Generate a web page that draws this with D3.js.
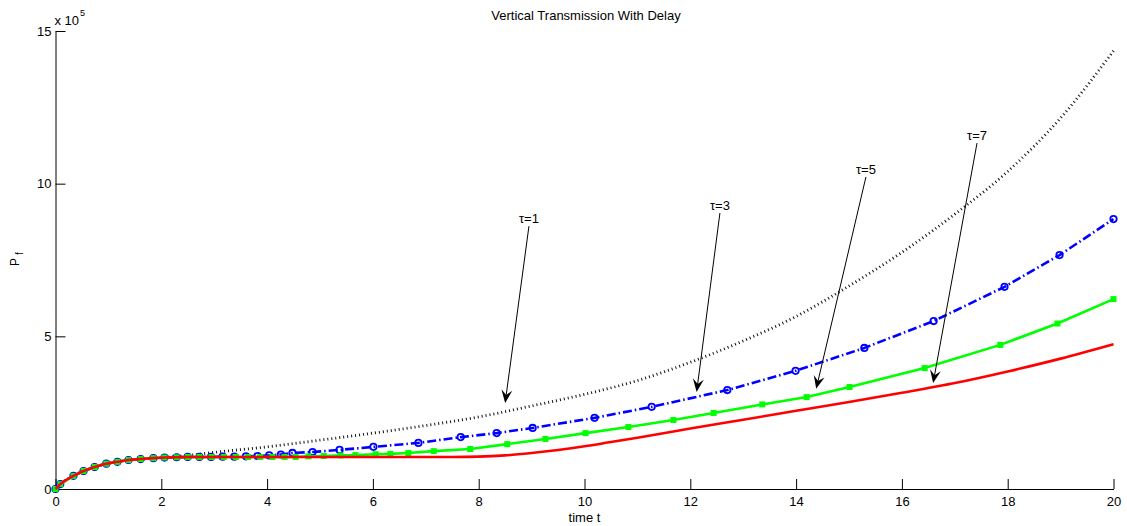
<!DOCTYPE html>
<html>
<head>
<meta charset="utf-8">
<script src="https://cdn.jsdelivr.net/npm/d3@7"></script>
<style>
  html, body { margin: 0; padding: 0; background: #fff; }
  svg { display: block; font-family: "Liberation Sans", Arial, Helvetica, sans-serif; }
</style>
</head>
<body>
<svg id="chart" width="1127" height="526"></svg>
<script>
// Population P_f (units of 10^5) over time for four delay values tau.

// tau = 1 (dotted black)
const tau1Time = [0, 0.09, 0.34, 0.53, 0.74, 0.96, 1.17, 1.38, 1.61, 1.85, 2.06, 2.29, 2.5, 3, 4, 5, 6, 7, 8, 9, 10, 11, 12, 13, 14, 15, 16, 17, 18, 19, 20];
const tau1Pf   = [0, 0.16, 0.43, 0.59, 0.72, 0.83, 0.89, 0.95, 0.98, 1.01, 1.04, 1.07, 1.10, 1.20, 1.38, 1.60, 1.83, 2.08, 2.36, 2.72, 3.10, 3.55, 4.15, 4.85, 5.65, 6.65, 7.75, 9.0, 10.4, 12.15, 14.35];

// tau = 3 (blue dash-dot, circle markers at each solver step)
const tau3Time = [0, 0.09, 0.34, 0.53, 0.74, 0.96, 1.17, 1.38, 1.61, 1.85, 2.06, 2.29, 2.5, 2.72, 2.94, 3.16, 3.38, 3.6, 3.82, 4.04, 4.26, 4.48, 4.86, 5.37, 6.01, 6.86, 7.66, 8.34, 9.02, 10.19, 11.27, 12.70, 13.99, 15.29, 16.60, 17.94, 18.98, 20];
const tau3Pf   = [0, 0.16, 0.43, 0.59, 0.72, 0.83, 0.89, 0.95, 0.98, 1.01, 1.03, 1.04, 1.05, 1.05, 1.05, 1.06, 1.06, 1.07, 1.08, 1.10, 1.13, 1.18, 1.21, 1.28, 1.38, 1.51, 1.70, 1.83, 2.00, 2.33, 2.69, 3.24, 3.87, 4.62, 5.50, 6.62, 7.66, 8.84];

// tau = 5 (green solid, square markers at each solver step)
const tau5Time = [0, 0.09, 0.34, 0.53, 0.74, 0.96, 1.17, 1.38, 1.61, 1.85, 2.06, 2.29, 2.5, 2.72, 2.95, 3.18, 3.41, 3.64, 3.87, 4.1, 4.33, 4.54, 4.78, 5.07, 5.39, 5.67, 6.05, 6.33, 6.67, 7.15, 7.84, 8.54, 9.26, 10.02, 10.83, 11.68, 12.44, 13.36, 14.20, 15.01, 16.43, 17.86, 18.94, 20];
const tau5Pf   = [0, 0.16, 0.43, 0.59, 0.72, 0.83, 0.89, 0.95, 0.98, 1.01, 1.03, 1.04, 1.05, 1.05, 1.05, 1.05, 1.05, 1.05, 1.05, 1.05, 1.05, 1.05, 1.07, 1.08, 1.10, 1.11, 1.14, 1.15, 1.18, 1.24, 1.31, 1.47, 1.64, 1.83, 2.03, 2.26, 2.49, 2.77, 3.01, 3.34, 3.96, 4.72, 5.42, 6.22];

// tau = 7 (red solid)
const tau7Time = [0, 0.09, 0.34, 0.53, 0.74, 0.96, 1.17, 1.38, 1.61, 1.85, 2.06, 2.29, 2.5, 3, 4, 5, 6, 7, 7.5, 8, 8.5, 9, 9.5, 10, 10.5, 11, 12, 13, 14, 15, 16, 17, 18, 19, 20];
const tau7Pf   = [0, 0.16, 0.43, 0.59, 0.72, 0.83, 0.89, 0.95, 0.98, 1.01, 1.03, 1.04, 1.05, 1.05, 1.05, 1.05, 1.05, 1.05, 1.05, 1.06, 1.10, 1.18, 1.28, 1.40, 1.54, 1.68, 1.98, 2.27, 2.56, 2.85, 3.15, 3.47, 3.85, 4.27, 4.74];

// Axis ticks
const xTicks = [0, 2, 4, 6, 8, 10, 12, 14, 16, 18, 20];
const yTicks = [0, 5, 10, 15];

// Arrow annotations: label, tail (t, Pf) and head (t, Pf)
const noteLabels = ["τ=1", "τ=3", "τ=5", "τ=7"];
const noteTail   = [[8.95, 8.61], [12.56, 9.04], [15.32, 10.22], [17.42, 11.33]];
const noteHead   = [[8.50, 2.82], [12.12, 3.18], [14.38, 3.28], [16.59, 3.47]];

const svg = d3.select("#chart");
const plotLeft = 55.5, plotRight = 1113.5, plotTop = 31, plotBottom = 489;

const x = d3.scaleLinear().domain([0, 20]).range([plotLeft, plotRight]);
const y = d3.scaleLinear().domain([0, 15]).range([plotBottom, plotTop]);

const zip = (ts, vs) => ts.map((t, i) => [t, vs[i]]);

// Axes with inward ticks
const xAxis = svg.append("g")
  .attr("transform", `translate(0,${plotBottom})`)
  .call(d3.axisBottom(x).tickValues(xTicks).tickFormat(d3.format("d"))
        .tickSizeInner(-10).tickSizeOuter(0).tickPadding(8));
const yAxis = svg.append("g")
  .attr("transform", `translate(${plotLeft},0)`)
  .call(d3.axisLeft(y).tickValues(yTicks).tickFormat(d3.format("d"))
        .tickSizeInner(-10).tickSizeOuter(0).tickPadding(4));
[xAxis, yAxis].forEach(g => {
  g.selectAll("text").attr("font-size", 13).attr("fill", "#000")
    .attr("font-family", "Liberation Sans, Arial, sans-serif");
  g.selectAll("line, path").attr("stroke", "#000").attr("stroke-width", 1);
});
xAxis.selectAll("text").attr("dy", "0.72em");

// Exponent label above the y axis
const expo = svg.append("text").attr("x", plotLeft - 1).attr("y", 25)
  .attr("font-size", 13).attr("fill", "#000");
expo.append("tspan").text("x 10");
expo.append("tspan").attr("font-size", 9).attr("dy", -9).attr("dx", 1).text("5");

// Title and axis labels
svg.append("text").attr("x", 586).attr("y", 20).attr("text-anchor", "middle")
  .attr("font-size", 13).attr("fill", "#000").text("Vertical Transmission With Delay");
svg.append("text").attr("x", (plotLeft + plotRight) / 2).attr("y", 522).attr("text-anchor", "middle")
  .attr("font-size", 13).attr("fill", "#000").text("time t");
const yl = svg.append("text")
  .attr("transform", "translate(19,259) rotate(-90)")
  .attr("text-anchor", "middle").attr("font-size", 12).attr("fill", "#000");
yl.append("tspan").text("P");
yl.append("tspan").attr("font-size", 10).attr("dy", 4).attr("dx", 3).text("f");

// Curves
const linear = d3.line().x(d => x(d[0])).y(d => y(d[1]));
const smooth = d3.line().x(d => x(d[0])).y(d => y(d[1])).curve(d3.curveMonotoneX);

svg.append("path").datum(zip(tau1Time, tau1Pf))
  .attr("d", smooth).attr("fill", "none")
  .attr("stroke", "#111").attr("stroke-width", 2.8).attr("stroke-dasharray", "1,3");

const blueData = zip(tau3Time, tau3Pf);
svg.append("path").datum(blueData)
  .attr("d", linear).attr("fill", "none")
  .attr("stroke", "#0000ff").attr("stroke-width", 2.6).attr("stroke-dasharray", "9,3,1.5,3");
svg.append("g").selectAll("circle").data(blueData).join("circle")
  .attr("cx", d => x(d[0])).attr("cy", d => y(d[1])).attr("r", 3.2)
  .attr("fill", "none").attr("stroke", "#0000ff").attr("stroke-width", 1.8);

const greenData = zip(tau5Time, tau5Pf);
svg.append("path").datum(greenData)
  .attr("d", linear).attr("fill", "none")
  .attr("stroke", "#00ff00").attr("stroke-width", 2.6);
svg.append("g").selectAll("rect").data(greenData).join("rect")
  .attr("x", d => x(d[0]) - 3).attr("y", d => y(d[1]) - 3)
  .attr("width", 6).attr("height", 6).attr("fill", "#00ff00");

svg.append("path").datum(zip(tau7Time, tau7Pf))
  .attr("d", smooth).attr("fill", "none")
  .attr("stroke", "#ff0000").attr("stroke-width", 2.6);

// Arrow annotations
const notes = svg.append("g");
noteLabels.forEach((label, i) => {
  const [tx, ty] = [x(noteTail[i][0]), y(noteTail[i][1])];
  const [hx, hy] = [x(noteHead[i][0]), y(noteHead[i][1])];
  const len = Math.hypot(hx - tx, hy - ty);
  const ux = (hx - tx) / len, uy = (hy - ty) / len;
  const nx = -uy, ny = ux;
  const L = 13, W = 5.5, notch = 8;
  notes.append("line").attr("x1", tx).attr("y1", ty)
    .attr("x2", hx - ux * notch).attr("y2", hy - uy * notch)
    .attr("stroke", "#000").attr("stroke-width", 1);
  notes.append("path")
    .attr("d", `M${hx},${hy}L${hx - ux * L + nx * W},${hy - uy * L + ny * W}` +
               `L${hx - ux * notch},${hy - uy * notch}` +
               `L${hx - ux * L - nx * W},${hy - uy * L - ny * W}Z`)
    .attr("fill", "#000");
  notes.append("text").attr("x", tx).attr("y", ty - 3)
    .attr("text-anchor", "middle").attr("font-size", 13).attr("fill", "#000").text(label);
});
</script>
</body>
</html>
